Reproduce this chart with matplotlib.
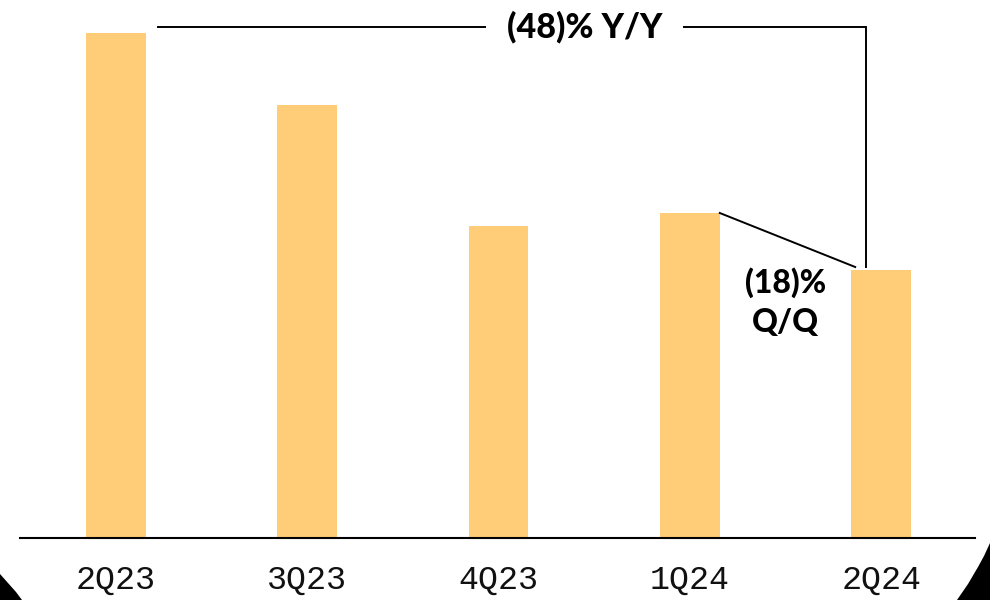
import matplotlib.pyplot as plt
import numpy as np
from matplotlib.patches import Polygon

quarters = ['2Q23', '3Q23', '4Q23', '1Q24', '2Q24']
values = [505, 433, 312, 325, 268]
yoy_label = '(48)% Y/Y'
qoq_label = '(18)%\nQ/Q'

bar_color = '#FFCD78'
W, H = 990, 600

fig = plt.figure(figsize=(W / 100, H / 100), dpi=100)
fig.patch.set_facecolor('white')

# black rounded frame showing at the bottom corners
left_corner = np.array([(0, 600), (0, 574), (8, 583), (16, 592), (22, 600)], float)
right_corner = np.array([(990, 600), (990, 543), (984, 556), (978, 567), (968, 584), (957, 600)], float)
for pts in (left_corner, right_corner):
    xy = np.column_stack([pts[:, 0] / W, 1 - pts[:, 1] / H])
    fig.patches.append(Polygon(xy, closed=True, facecolor='black', edgecolor='none',
                               transform=fig.transFigure, figure=fig))

ax = fig.add_axes([20 / W, 62 / H, 955 / W, 538 / H])
x = np.arange(len(quarters))
bw = 0.313
ax.bar(x, values, width=bw, color=bar_color, zorder=2)

ax.set_xlim(-0.5, 4.49)
ax.set_ylim(0, 538)
for s in ['top', 'right', 'left']:
    ax.spines[s].set_visible(False)
ax.spines['bottom'].set_linewidth(1.5)
ax.spines['bottom'].set_color('black')
ax.set_yticks([])
ax.set_xticks(x)
ax.set_xticklabels(quarters, fontfamily='Liberation Mono', fontsize=24, color='#111111')
ax.tick_params(axis='x', length=0, pad=19)

# year-over-year bracket from 2Q23 to 2Q24
y_top = 511
ax.plot([x[0] + 0.22, x[4] - 0.08, x[4] - 0.08], [y_top, y_top, values[4] + 3],
        color='black', lw=1.4, zorder=3, solid_joinstyle='miter')
ax.text(2.45, y_top, yoy_label, ha='center', va='center', fontfamily='Lato',
        fontweight='black', fontsize=24.5, zorder=4,
        bbox=dict(boxstyle='square,pad=0.6', facecolor='white', edgecolor='none'))

# quarter-over-quarter connector
ax.plot([x[3] + bw / 2, x[4] - 0.136], [values[3], values[4] + 3],
        color='black', lw=1.4, zorder=3)
ax.text(3.5, 236, qoq_label, ha='center', va='center', fontfamily='Lato',
        fontweight='black', fontsize=23, linespacing=1.45, zorder=4)

fig.savefig('out.png', dpi=100)
